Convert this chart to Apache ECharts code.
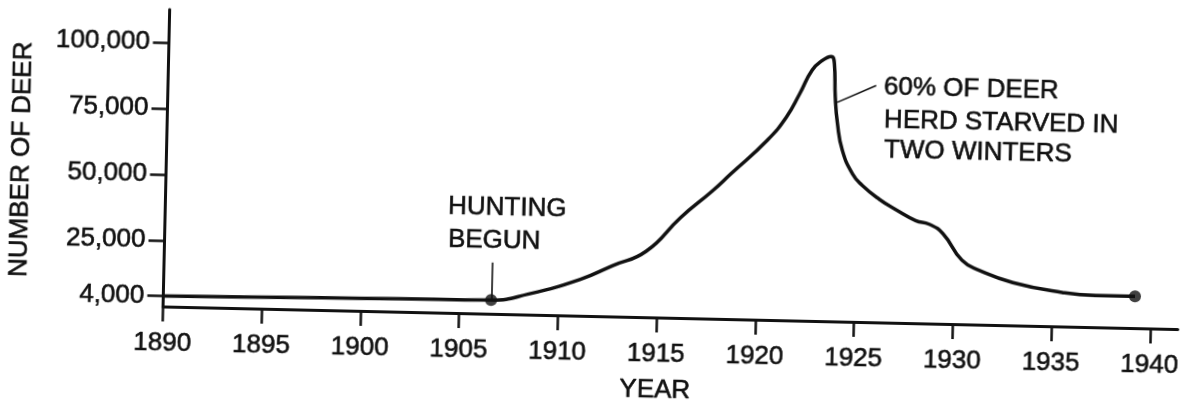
<!DOCTYPE html>
<html>
<head>
<meta charset="utf-8">
<script src="https://cdn.jsdelivr.net/npm/echarts@6/dist/echarts.min.js"></script>
<style>
  html, body { margin: 0; padding: 0; background: #ffffff; overflow: hidden; }
  #chart { width: 1185px; height: 403px; transform: rotate(1.276deg); transform-origin: 50% 50%; background: #ffffff; }
</style>
</head>
<body>
<div id="chart"></div>
<script>
// ---- data ----
const years  = [1890, 1894, 1898, 1902, 1906.6, 1908.5, 1911.1, 1912.7, 1914.4, 1916.1, 1917.7, 1918.6, 1920.4, 1921.35, 1922.0, 1922.6, 1923.1, 1923.55, 1923.72, 1923.8, 1923.94, 1924.22, 1924.76, 1925.27, 1926.15, 1927.0, 1928.0, 1928.7, 1929.4, 1930.4, 1931.3, 1933.0, 1935.5, 1937.2, 1939.2];
const deer   = [4000, 4300, 4600, 4900, 5200, 7800, 13800, 19200, 25000, 38000, 48500, 55000, 68000, 77000, 86000, 95000, 98700, 100300, 97500, 85000, 75000, 64800, 56000, 51700, 46600, 42800, 38900, 37600, 34200, 24200, 20500, 16200, 12900, 12000, 12000];
const dotYears  = [1906.6, 1939.2];
const dotValues = [5200, 12000];
const xTicks = [1890, 1895, 1900, 1905, 1910, 1915, 1920, 1925, 1930, 1935, 1940];
const yTicks = [4000, 25000, 50000, 75000, 100000];
const huntingLeaderYears  = [1906.6, 1906.6];
const huntingLeaderValues = [5200, 19400];
const starveLeaderYears   = [1923.91, 1925.86];
const starveLeaderValues  = [83000, 89700];
const xTitle = 'YEAR';
const yTitle = 'NUMBER OF DEER';
const huntingNote = ['HUNTING', 'BEGUN'];
const starveNote  = ['60% OF DEER', 'HERD STARVED IN', 'TWO WINTERS'];

// ---- chart ----
const INK = '#111111';
const FONT = '"Liberation Sans", Arial, Helvetica, sans-serif';
const chart = echarts.init(document.getElementById('chart'), null, { renderer: 'canvas' });

const lineData = years.map((y, i) => [y, deer[i]]);
const dotData = dotYears.map((y, i) => [y, dotValues[i]]);

function textEl(str, x, y, align) {
  return {
    type: 'text', x: x, y: y, silent: true,
    style: { text: str, fill: INK, fontSize: 26, fontFamily: FONT, align: align || 'left', verticalAlign: 'middle',
             stroke: INK, lineWidth: 0.6 }
  };
}

chart.setOption({
  animation: false,
  backgroundColor: '#ffffff',
  grid: { left: 165.5, right: 4.3, top: 19, bottom: 87, containLabel: false },
  xAxis: {
    type: 'value', min: 1890, max: 1941.4, interval: 5,
    axisLine: { show: true, onZero: false, lineStyle: { color: INK, width: 3 } },
    axisTick: { show: true, length: 15, customValues: xTicks, lineStyle: { color: INK, width: 2.5 } },
    axisLabel: { customValues: xTicks, margin: 24, fontSize: 26, color: INK, fontFamily: FONT,
                 textBorderColor: INK, textBorderWidth: 0.6, formatter: v => String(v) },
    splitLine: { show: false }
  },
  yAxis: {
    type: 'value', min: 0, max: 112500,
    axisLine: { show: true, onZero: false, lineStyle: { color: INK, width: 3 } },
    axisTick: { show: true, length: 16, customValues: yTicks, lineStyle: { color: INK, width: 2.5 } },
    axisLabel: { customValues: yTicks, margin: 19, fontSize: 26, color: INK, fontFamily: FONT,
                 textBorderColor: INK, textBorderWidth: 0.6,
                 formatter: v => Number(v).toLocaleString('en-US') },
    splitLine: { show: false }
  },
  series: [
    {
      type: 'line', data: lineData, showSymbol: false, smooth: 0.5,
      lineStyle: { color: INK, width: 3.5 }, z: 3,
      markLine: {
        silent: true, symbol: 'none', label: { show: false },
        lineStyle: { color: INK, width: 1.6, type: 'solid' },
        data: [
          [ { coord: [huntingLeaderYears[0], huntingLeaderValues[0]] }, { coord: [huntingLeaderYears[1], huntingLeaderValues[1]] } ],
          [ { coord: [starveLeaderYears[0], starveLeaderValues[0]] }, { coord: [starveLeaderYears[1], starveLeaderValues[1]] } ]
        ]
      }
    },
    {
      type: 'scatter', data: dotData, symbol: 'circle', symbolSize: 12,
      itemStyle: { color: INK }, z: 4
    }
  ],
  graphic: [
    {
      type: 'text', x: 20.5, y: 172, rotation: Math.PI / 2, silent: true,
      style: { text: yTitle, fill: INK, fontSize: 26, fontFamily: FONT, align: 'center', verticalAlign: 'middle',
               stroke: INK, lineWidth: 0.6 }
    },
    textEl(xTitle, 659, 388.6, 'center'),
    textEl(huntingNote[0], 448.2, 210.2),
    textEl(huntingNote[1], 448.9, 243.2),
    textEl(starveNote[0], 881.3, 80.5),
    textEl(starveNote[1], 882.1, 113.5),
    textEl(starveNote[2], 882.8, 143.5)
  ]
});
</script>
</body>
</html>
